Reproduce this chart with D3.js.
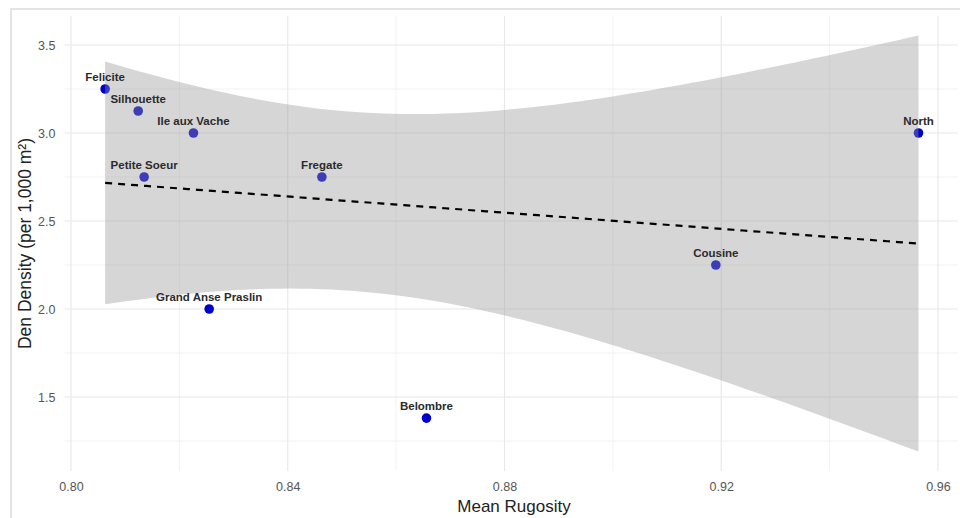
<!DOCTYPE html>
<html>
<head>
<meta charset="utf-8">
<script src="https://cdn.jsdelivr.net/npm/d3@7"></script>
<style>
  html, body { margin: 0; padding: 0; background: #fff; }
  svg { display: block; font-family: "Liberation Sans", Arial, sans-serif; }
</style>
</head>
<body>
<svg id="chart" width="960" height="518"></svg>
<script>
// ---- data ----
const sites = ["Felicite", "Silhouette", "Ile aux Vache", "Petite Soeur", "Fregate",
               "Grand Anse Praslin", "Belombre", "Cousine", "North"];
const rugosity = [0.8063, 0.8124, 0.8226, 0.8135, 0.8463, 0.8255, 0.8656, 0.9190, 0.9564];
const density  = [3.25, 3.125, 3.0, 2.75, 2.75, 2.0, 1.38, 2.25, 3.0];
const xTicks = [0.80, 0.84, 0.88, 0.92, 0.96];
const xMinor = [0.82, 0.86, 0.90, 0.94];
const yTicks = [1.5, 2.0, 2.5, 3.0, 3.5];
const yMinor = [1.25, 1.75, 2.25, 2.75, 3.25];

// ---- linear model with 95% CI (geom_smooth(method = "lm")) ----
const n = rugosity.length;
const mx = d3.mean(rugosity), my = d3.mean(density);
const sxx = d3.sum(rugosity, v => (v - mx) ** 2);
const sxy = d3.sum(rugosity.map((v, i) => (v - mx) * (density[i] - my)));
const slope = sxy / sxx, intercept = my - slope * mx;
const rss = d3.sum(rugosity.map((v, i) => (density[i] - (intercept + slope * v)) ** 2));
const s = Math.sqrt(rss / (n - 2));
const tcrit = 2.364624; // t(0.975, df = 7)
const xMin = d3.min(rugosity), xMax = d3.max(rugosity);
const fit = d3.range(80).map(k => {
  const x = xMin + (xMax - xMin) * k / 79;
  const yhat = intercept + slope * x;
  const se = s * Math.sqrt(1 / n + (x - mx) ** 2 / sxx);
  return { x, y: yhat, lo: yhat - tcrit * se, hi: yhat + tcrit * se };
});

// ---- scales ----
const panel = { left: 64.5, right: 958, top: 16, bottom: 471 };
const x = d3.scaleLinear().domain([0.80, 0.96]).range([71, 938]);
const y = d3.scaleLinear().domain([1.5, 3.5]).range([397, 45]);

const svg = d3.select("#chart");

// outer border of the picture
svg.append("rect").attr("x", 11).attr("y", 9).attr("width", 960).attr("height", 520)
  .attr("fill", "none").attr("stroke", "#e4e4e4").attr("stroke-width", 2);

const grid = svg.append("g");
grid.selectAll(".xm").data(xMinor).join("line")
  .attr("x1", d => x(d)).attr("x2", d => x(d)).attr("y1", panel.top).attr("y2", panel.bottom)
  .attr("stroke", "#f2f2f2").attr("stroke-width", 1);
grid.selectAll(".ym").data(yMinor).join("line")
  .attr("y1", d => y(d)).attr("y2", d => y(d)).attr("x1", panel.left).attr("x2", panel.right)
  .attr("stroke", "#f2f2f2").attr("stroke-width", 1);
grid.selectAll(".xM").data(xTicks).join("line")
  .attr("x1", d => x(d)).attr("x2", d => x(d)).attr("y1", panel.top).attr("y2", panel.bottom)
  .attr("stroke", "#e8e8e8").attr("stroke-width", 1.1);
grid.selectAll(".yM").data(yTicks).join("line")
  .attr("y1", d => y(d)).attr("y2", d => y(d)).attr("x1", panel.left).attr("x2", panel.right)
  .attr("stroke", "#e8e8e8").attr("stroke-width", 1.1);

// axes (text only, like theme_minimal)
const xAxis = svg.append("g").attr("transform", `translate(0,${panel.bottom})`)
  .call(d3.axisBottom(x).tickValues(xTicks).tickFormat(d3.format(".2f")).tickSize(0).tickPadding(11));
const yAxis = svg.append("g").attr("transform", `translate(${panel.left},0)`)
  .call(d3.axisLeft(y).tickValues(yTicks).tickFormat(d3.format(".1f")).tickSize(0).tickPadding(9));
[xAxis, yAxis].forEach(a => {
  a.select(".domain").remove();
  a.selectAll("text").attr("fill", "#555").attr("font-size", "12.5px")
    .attr("font-family", "Liberation Sans, Arial, sans-serif");
});

// points
svg.append("g").selectAll("circle").data(sites).join("circle")
  .attr("cx", (d, i) => x(rugosity[i])).attr("cy", (d, i) => y(density[i]))
  .attr("r", 4.8).attr("fill", "#0000cd");

// confidence ribbon
svg.append("path").datum(fit)
  .attr("d", d3.area().x(d => x(d.x)).y0(d => y(d.lo)).y1(d => y(d.hi)))
  .attr("fill", "#999999").attr("fill-opacity", 0.4);

// regression line
svg.append("path").datum(fit)
  .attr("d", d3.line().x(d => x(d.x)).y(d => y(d.y)))
  .attr("fill", "none").attr("stroke", "#000").attr("stroke-width", 2.2)
  .attr("stroke-dasharray", "7,6");

// labels
svg.append("g").selectAll("text").data(sites).join("text")
  .attr("x", (d, i) => x(rugosity[i])).attr("y", (d, i) => y(density[i]) - 8.5)
  .attr("text-anchor", "middle").attr("font-weight", "bold").attr("font-size", "11.5px")
  .attr("fill", "#2b2b2b").text(d => d);

// axis titles
svg.append("text").attr("x", 514).attr("y", 511.5).attr("text-anchor", "middle")
  .attr("font-size", "17px").attr("fill", "#222").text("Mean Rugosity");
svg.append("text").attr("transform", `translate(31,${(panel.top + panel.bottom) / 2}) rotate(-90)`)
  .attr("text-anchor", "middle").attr("font-size", "17.5px").attr("fill", "#222")
  .text("Den Density (per 1,000 m²)");
</script>
</body>
</html>
